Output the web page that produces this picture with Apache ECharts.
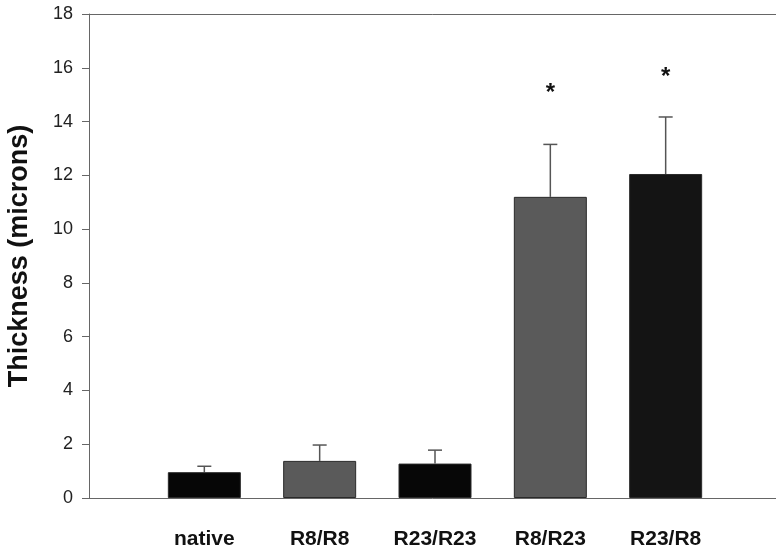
<!DOCTYPE html>
<html>
<head>
<meta charset="utf-8">
<script src="https://cdn.jsdelivr.net/npm/echarts@6/dist/echarts.min.js"></script>
<style>
html,body{margin:0;padding:0;background:#fff;}
#chart{width:776px;height:550px;}
</style>
</head>
<body>
<div id="chart"></div>
<script>
const categories = ['', 'native', 'R8/R8', 'R23/R23', 'R8/R23', 'R23/R8', ''];
const thickness = [null, 0.96, 1.38, 1.28, 11.2, 12.05, null];
const errorUpper = [null, 1.18, 1.97, 1.78, 13.15, 14.17, null];
const starMarks = [null, null, null, null, 15.2, 15.8, null];
const yTicks = [0, 2, 4, 6, 8, 10, 12, 14, 16, 18];

const barColors = ['#000', '#060606', '#5a5a5a', '#070707', '#5a5a5a', '#141414', '#000'];
const FONT = '"Liberation Sans", Arial, sans-serif';

const chart = echarts.init(document.getElementById('chart'), null, {renderer: 'canvas'});

const barData = thickness.map((v, i) => v == null ? '-' : ({
  value: v,
  itemStyle: {color: barColors[i], borderColor: '#2a2a2a', borderWidth: 1}
}));
const errData = [];
thickness.forEach((v, i) => { if (v != null) errData.push([i, v, errorUpper[i]]); });
const starData = [];
starMarks.forEach((v, i) => { if (v != null) starData.push([i, v]); });

chart.setOption({
  animation: false,
  backgroundColor: '#fff',
  grid: {left: 89, right: -5, top: 14, bottom: 52, containLabel: false, outerBoundsMode: 'none'},
  xAxis: [{
    type: 'category',
    data: categories,
    boundaryGap: false,
    axisLine: {lineStyle: {color: '#666', width: 1}},
    axisTick: {show: false},
    axisLabel: {
      interval: 0, margin: 31, color: '#111',
      fontFamily: FONT, fontSize: 21, fontWeight: 'bold'
    },
    splitLine: {show: false}
  }, {
    type: 'category',
    position: 'top',
    data: categories,
    boundaryGap: false,
    axisLine: {lineStyle: {color: '#666', width: 1}},
    axisTick: {show: false},
    axisLabel: {show: false},
    splitLine: {show: false}
  }],
  yAxis: {
    type: 'value',
    min: yTicks[0],
    max: yTicks[yTicks.length - 1],
    interval: 2,
    name: 'Thickness (microns)',
    nameLocation: 'middle',
    nameGap: 56,
    nameTextStyle: {fontFamily: FONT, fontSize: 27, fontWeight: 'bold', color: '#111'},
    axisLine: {show: true, lineStyle: {color: '#666', width: 1}},
    axisTick: {show: true, inside: false, length: 7, lineStyle: {color: '#666'}},
    axisLabel: {margin: 16, color: '#222', fontFamily: FONT, fontSize: 18},
    splitLine: {show: false}
  },
  series: [{
    type: 'bar',
    data: barData,
    barWidth: 73,
    z: 2
  }, {
    type: 'custom',
    data: errData,
    z: 1,
    renderItem: function (params, api) {
      const base = api.coord([api.value(0), api.value(1)]);
      const top = api.coord([api.value(0), api.value(2)]);
      const half = 7;
      const style = {stroke: '#555', lineWidth: 1.5};
      return {
        type: 'group',
        children: [
          {type: 'line', shape: {x1: base[0], y1: base[1], x2: top[0], y2: top[1]}, style: style},
          {type: 'line', shape: {x1: top[0] - half, y1: top[1], x2: top[0] + half, y2: top[1]}, style: style}
        ]
      };
    }
  }, {
    type: 'custom',
    data: starData,
    z: 3,
    renderItem: function (params, api) {
      const p = api.coord([api.value(0), api.value(1)]);
      return {
        type: 'text',
        x: p[0], y: p[1] + 4,
        style: {
          text: '*', fontFamily: FONT, fontSize: 24, fontWeight: 'bold',
          fill: '#111', align: 'center', verticalAlign: 'middle'
        }
      };
    }
  }]
});
</script>
</body>
</html>
